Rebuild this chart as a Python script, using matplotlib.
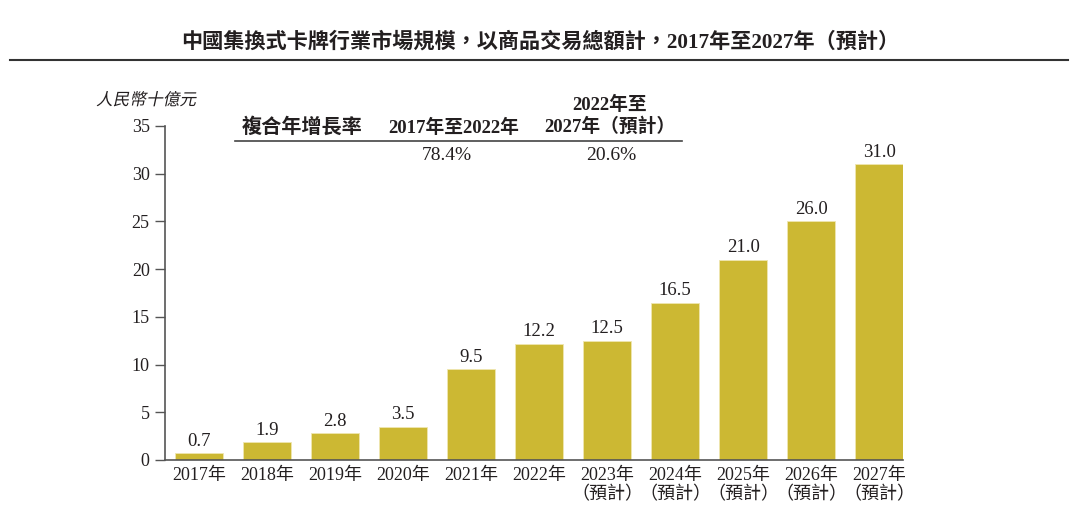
import matplotlib
matplotlib.use('Agg')
import matplotlib.pyplot as plt
import numpy as np
from matplotlib.textpath import TextPath
from matplotlib.patches import PathPatch
from matplotlib.font_manager import FontProperties
from matplotlib.transforms import Affine2D

plt.rcParams['font.family'] = ['Liberation Serif', 'Noto Sans CJK TC']

years = ['2017年', '2018年', '2019年', '2020年', '2021年', '2022年',
         '2023年\n（預計）', '2024年\n（預計）', '2025年\n（預計）',
         '2026年\n（預計）', '2027年\n（預計）']
# bar heights as drawn in the source (2026 bar is drawn at 25 but labelled 26.0)
heights = [0.7, 1.9, 2.8, 3.5, 9.5, 12.2, 12.5, 16.5, 21.0, 25.0, 31.0]
labels = ['0.7', '1.9', '2.8', '3.5', '9.5', '12.2', '12.5', '16.5', '21.0', '26.0', '31.0']
yticks = [0, 5, 10, 15, 20, 25, 30, 35]

cagr_head = ['複合年增長率', '2017年至2022年', '2022年至\n2027年（預計）']
cagr_vals = ['78.4%', '20.6%']

bar_color = '#CCB833'
txt = '#231F20'

fig = plt.figure(figsize=(10.8, 5.32), dpi=100)
ax = fig.add_axes([165/1080, 1-460/532, 738/1080, 334/532])

x = np.arange(len(years))
ax.bar(x, heights, width=0.71, color=bar_color, edgecolor='#EFE6B0', linewidth=0.6)
for xi, h, lab in zip(x, heights, labels):
    ax.text(xi, h + 0.35, lab, ha='center', va='bottom', fontsize=13.5, color=txt)

ax.set_xlim(-0.5, 10.35)
ax.set_ylim(0, 35)
ax.set_yticks(yticks)
ax.set_xticks(x)
ax.set_xticklabels(years, fontsize=13, color=txt, linespacing=1.15)
ax.tick_params(axis='x', length=0, pad=5)
ax.tick_params(axis='y', length=7, width=1, color='#555555', labelsize=13, labelcolor=txt, pad=4)
for s in ['top', 'right']:
    ax.spines[s].set_visible(False)
for s in ['left', 'bottom']:
    ax.spines[s].set_color('#555555')
    ax.spines[s].set_linewidth(1.2)

# title and rule
fig.text(0.5, 1-42/532, '中國集換式卡牌行業市場規模，以商品交易總額計，2017年至2027年（預計）',
         ha='center', va='center', fontsize=15.2, fontweight='bold', color=txt)
fig.add_artist(plt.Line2D([10/1080, 1068/1080], [1-60/532, 1-60/532], color='#333333', lw=1.5))

# unit label, slanted like the source (CJK font has no italic face)
fp = FontProperties(family='Noto Sans CJK TC', size=12)
tp = TextPath((0, 0), '人民幣十億元', prop=fp)
px = 100 / 72.0
tr = Affine2D().scale(px).skew_deg(12, 0).translate(96, 532 - 105)
fig.add_artist(PathPatch(tr.transform_path(tp), facecolor=txt, edgecolor='none',
                         transform=None))

# CAGR table
fig.text(302/1080, 1-128/532, cagr_head[0], ha='center', va='center', fontsize=14.5,
         fontweight='bold', color=txt)
fig.text(454/1080, 1-128/532, cagr_head[1], ha='center', va='center', fontsize=13.5,
         fontweight='bold', color=txt)
fig.text(610/1080, 1-116/532, cagr_head[2], ha='center', va='center', fontsize=13.5,
         fontweight='bold', color=txt, linespacing=1.25)
fig.add_artist(plt.Line2D([235/1080, 682/1080], [1-141/532, 1-141/532], color='#444444', lw=1.2))
fig.text(447/1080, 1-155/532, cagr_vals[0], ha='center', va='center', fontsize=14, color=txt)
fig.text(611/1080, 1-155/532, cagr_vals[1], ha='center', va='center', fontsize=14, color=txt)

fig.savefig('out.png', dpi=100)
